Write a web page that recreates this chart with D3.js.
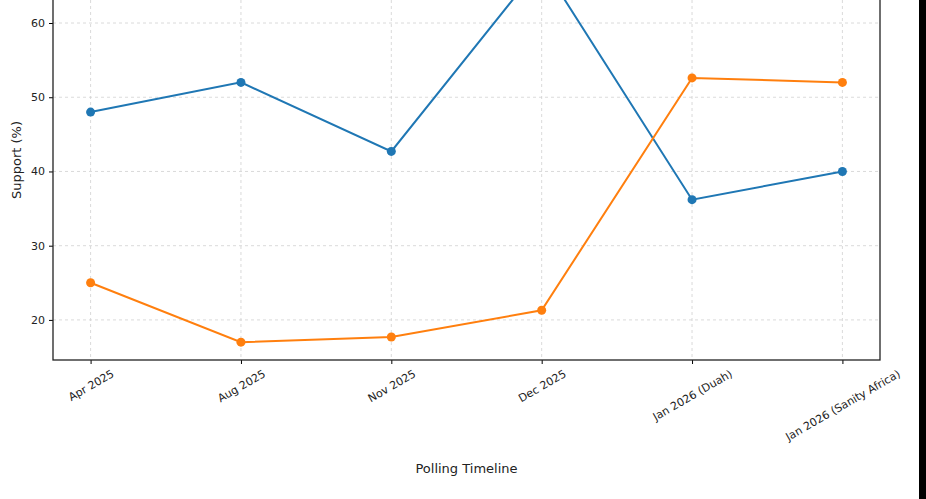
<!DOCTYPE html>
<html><head><meta charset="utf-8">
<script src="https://cdn.jsdelivr.net/npm/d3@7"></script>
<style>body{margin:0;background:#fff}text{font-family:"DejaVu Sans",sans-serif}</style>
</head><body>
<svg id="chart" width="926" height="499"></svg>
<script>
var categories = ["Apr 2025","Aug 2025","Nov 2025","Dec 2025","Jan 2026 (Duah)","Jan 2026 (Sanity Africa)"];
var seriesA = [48, 52, 42.7, 68, 36.2, 40];
var seriesB = [25, 17, 17.7, 21.3, 52.6, 52];
var yTicks = [20, 30, 40, 50, 60];

var svg = d3.select("#chart");
var L = 53, R = 880, T = 0, B = 360;

var x = d3.scalePoint().domain(categories).range([L, R]).padding(0.25);
var y = d3.scaleLinear().domain([14.6, 63.1]).range([B, T]);

svg.append("clipPath").attr("id","clip").append("rect")
	.attr("x", L).attr("y", T).attr("width", R-L).attr("height", B-T);

var grid = svg.append("g").attr("stroke","#d0d0d0").attr("stroke-dasharray","3,3").attr("stroke-width",0.8);
categories.forEach(function(c){
	grid.append("line").attr("x1",x(c)).attr("x2",x(c)).attr("y1",T).attr("y2",B);
});
yTicks.forEach(function(t){
	grid.append("line").attr("x1",L).attr("x2",R).attr("y1",y(t)).attr("y2",y(t));
});

function drawSeries(vals, color) {
	var g = svg.append("g").attr("clip-path","url(#clip)");
	var line = d3.line().x(function(d,i){ return x(categories[i]); }).y(function(d){ return y(d); });
	g.append("path").datum(vals).attr("d", line).attr("fill","none").attr("stroke",color).attr("stroke-width",2);
	g.selectAll("circle").data(vals).enter().append("circle")
		.attr("cx", function(d,i){ return x(categories[i]); })
		.attr("cy", function(d){ return y(d); })
		.attr("r", 4.5).attr("fill", color);
}
drawSeries(seriesA, "#1f77b4");
drawSeries(seriesB, "#ff7f0e");

var xa = svg.append("g").attr("transform","translate(0,"+B+")")
	.call(d3.axisBottom(x).tickSize(4));
xa.select(".domain").remove();
xa.selectAll(".tick text").each(function(){
	var t = d3.select(this).attr("font-size",11).attr("fill","#222")
		.attr("text-anchor","middle").attr("dy","0.35em").attr("y",0);
	var len = this.getComputedTextLength();
	var h = len*0.5 + 11*0.866;
	t.attr("transform","translate(0,"+(8 + h/2)+") rotate(-30)");
});

var ya = svg.append("g").attr("transform","translate("+L+",0)")
	.call(d3.axisLeft(y).tickValues(yTicks).tickSize(4).tickPadding(4));
ya.select(".domain").remove();
ya.selectAll("text").attr("font-size",11).attr("fill","#222");

svg.append("rect").attr("x",L).attr("y",T-5).attr("width",R-L).attr("height",B-T+5)
	.attr("fill","none").attr("stroke","#222").attr("stroke-width",1.3);

svg.append("text").attr("x",(L+R)/2).attr("y",473).attr("text-anchor","middle")
	.attr("font-size",13).attr("fill","#222").text("Polling Timeline");
svg.append("text").attr("transform","translate(21,"+((T+B)/2-20)+") rotate(-90)")
	.attr("text-anchor","middle").attr("font-size",13).attr("fill","#222").text("Support (%)");

svg.append("rect").attr("x",919).attr("y",0).attr("width",7).attr("height",499).attr("fill","#000");
</script>
</body></html>
